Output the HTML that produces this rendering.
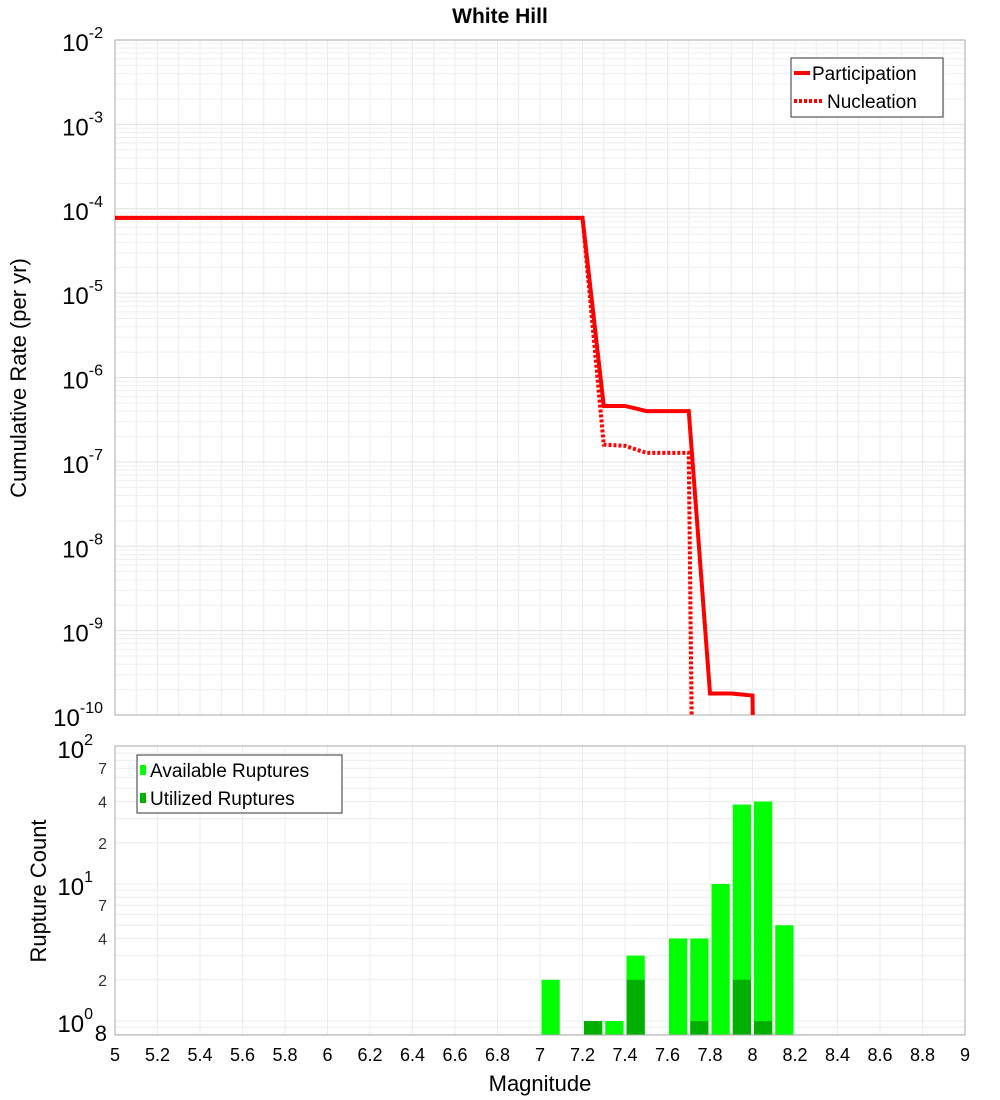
<!DOCTYPE html>
<html><head><meta charset="utf-8"><style>
body{margin:0;background:#fff;}
svg{display:block;font-family:"Liberation Sans","DejaVu Sans",sans-serif;}
</style></head><body>
<svg id="c" width="1000" height="1100" xmlns="http://www.w3.org/2000/svg">
<text x="500" y="23" text-anchor="middle" font-size="21" font-weight="bold">White Hill</text>
<g id="top"></g>
<g id="bot"></g>
<text transform="translate(26,378) rotate(-90)" text-anchor="middle" font-size="22">Cumulative Rate (per yr)</text>
<text transform="translate(46,891) rotate(-90)" text-anchor="middle" font-size="22">Rupture Count</text>
<text x="540" y="1091" text-anchor="middle" font-size="22">Magnitude</text>
</svg>
<script>
const partMags=[5.0,7.2,7.3,7.4,7.5,7.7,7.8,7.9,8.0,8.1];
const partRates=[7.8e-5,7.8e-5,4.6e-7,4.6e-7,4.0e-7,4.0e-7,1.8e-10,1.8e-10,1.7e-10,1e-30];
const nuclMags=[5.0,7.2,7.3,7.4,7.5,7.7,7.8];
const nuclRates=[7.8e-5,7.8e-5,1.6e-7,1.55e-7,1.28e-7,1.28e-7,1e-30];
const binMags=[7.0,7.2,7.3,7.4,7.6,7.7,7.8,7.9,8.0,8.1];
const availCounts=[2,1,1,3,4,4,10,38,40,5];
const utilCounts=[0,1,0,2,0,1,0,2,1,0];
const xTicks=[5,5.2,5.4,5.6,5.8,6,6.2,6.4,6.6,6.8,7,7.2,7.4,7.6,7.8,8,8.2,8.4,8.6,8.8,9];

const NS="http://www.w3.org/2000/svg";
const X0=115,X1=965;
const xs=m=>X0+(m-5)/4*(X1-X0);
const T0=40,T1=715;
const ysT=v=>T0+(-2-Math.log10(v))/8*(T1-T0);
const B0=746,B1=1035,BD=137,B10=1021;
const ysB=v=>B10-Math.log10(v)*BD;
function el(p,t,a){const e=document.createElementNS(NS,t);for(const k in a)e.setAttribute(k,a[k]);p.appendChild(e);return e;}
const svgEl=document.getElementById('c');
const defs=el(svgEl,'defs',{});
const cp=el(defs,'clipPath',{id:'ct'});el(cp,'rect',{x:X0,y:T0,width:X1-X0,height:T1-T0});
const cpb=el(defs,'clipPath',{id:'cb'});el(cpb,'rect',{x:X0,y:B0,width:X1-X0,height:B1-B0});
const topG=document.getElementById('top'),botG=document.getElementById('bot');
const tg=el(topG,'g',{});


for(let i=0;i<=40;i++){const x=5+i*0.1;el(tg,'line',{x1:xs(x),x2:xs(x),y1:T0,y2:T1,stroke:'#ececec','stroke-width':1});}
for(let d=-10;d<-2;d++)for(let k=1;k<10;k++){const y=ysT(k*Math.pow(10,d));el(tg,'line',{x1:X0,x2:X1,y1:y,y2:y,stroke:k==1?'#e0e0e0':'#efefef','stroke-width':1});}
el(topG,'rect',{x:X0,y:T0,width:X1-X0,height:T1-T0,fill:'none',stroke:'#aaa'});
for(let d=-10;d<=-2;d++){const y=ysT(Math.pow(10,d));const t=el(topG,'text',{x:X0-12,y:y+11,'text-anchor':'end','font-size':24});


t.appendChild(document.createTextNode('10'));
const ts=el(t,'tspan',{dy:-13,'font-size':16});ts.textContent=String(d);}
function line(mags,rates,dash,name){const p=el(topG,'polyline',{points:mags.map((m,i)=>xs(m)+','+ysT(rates[i])).join(' '),fill:'none',stroke:'#ff0000','stroke-width':4,'clip-path':'url(#ct)','stroke-dasharray':dash||'none'});

}
line(partMags,partRates,null,'participation-line');
line(nuclMags,nuclRates,'3,2','nucleation-line');
const lg=el(topG,'g',{});


el(lg,'rect',{x:791,y:58,width:152,height:59,fill:'#fff',stroke:'#333'});
el(lg,'line',{x1:794,x2:810,y1:73,y2:73,stroke:'#f00','stroke-width':4});
el(lg,'line',{x1:794,x2:822,y1:101,y2:101,stroke:'#f00','stroke-width':4,'stroke-dasharray':'3,2'});
el(lg,'text',{x:812,y:80,'font-size':19}).textContent='Participation';
el(lg,'text',{x:827,y:108,'font-size':19}).textContent='Nucleation';
const bg=el(botG,'g',{});


xTicks.forEach(x=>el(bg,'line',{x1:xs(x),x2:xs(x),y1:B0,y2:B1,stroke:'#ececec'}));
[0.8,0.9,1,2,3,4,5,6,7,8,9,10,20,30,40,50,60,70,80,90].forEach(v=>{const y=ysB(v);el(bg,'line',{x1:X0,x2:X1,y1:y,y2:y,stroke:'#ececec'});});
binMags.forEach((m,i)=>{const x=xs(m)+1.5,w=xs(m+0.1)-xs(m)-3;
const a=el(botG,'rect',{x:x,y:ysB(availCounts[i]),width:w,height:B1-ysB(availCounts[i]),fill:'#00ff00','clip-path':'url(#cb)'});


if(utilCounts[i]>0){const u=el(botG,'rect',{x:x,y:ysB(utilCounts[i]),width:w,height:B1-ysB(utilCounts[i]),fill:'#00b000','clip-path':'url(#cb)'});

}});
el(botG,'rect',{x:X0,y:B0,width:X1-X0,height:B1-B0,fill:'none',stroke:'#aaa'});
[[0,'0'],[1,'1'],[2,'2']].forEach(([d,s])=>{const t=el(botG,'text',{x:X0-22,y:ysB(Math.pow(10,d))+11,'text-anchor':'end','font-size':24});


t.appendChild(document.createTextNode('10'));
const ts=el(t,'tspan',{dy:-13,'font-size':16});ts.textContent=s;});
[[2,'2'],[4,'4'],[7,'7'],[20,'2'],[40,'4'],[70,'7']].forEach(([v,l])=>{const t=el(botG,'text',{x:X0-8,y:ysB(v)+6,'text-anchor':'end','font-size':16,fill:'#333'});


t.textContent=l;});
el(botG,'text',{x:X0-8,y:1041,'text-anchor':'end','font-size':22}).textContent='8';
const bl=el(botG,'g',{});


el(bl,'rect',{x:137,y:755,width:205,height:58,fill:'#fff',stroke:'#333'});
el(bl,'rect',{x:140,y:765,width:6,height:10,fill:'#00ff00'});
el(bl,'rect',{x:140,y:793,width:6,height:10,fill:'#00b000'});
el(bl,'text',{x:150,y:777,'font-size':19}).textContent='Available Ruptures';
el(bl,'text',{x:150,y:805,'font-size':19}).textContent='Utilized Ruptures';
xTicks.forEach(x=>{const t=el(svgEl,'text',{x:xs(x),y:1061,'text-anchor':'middle','font-size':18});


t.textContent=String(Math.round(x*10)/10);});
</script>
</body></html>
